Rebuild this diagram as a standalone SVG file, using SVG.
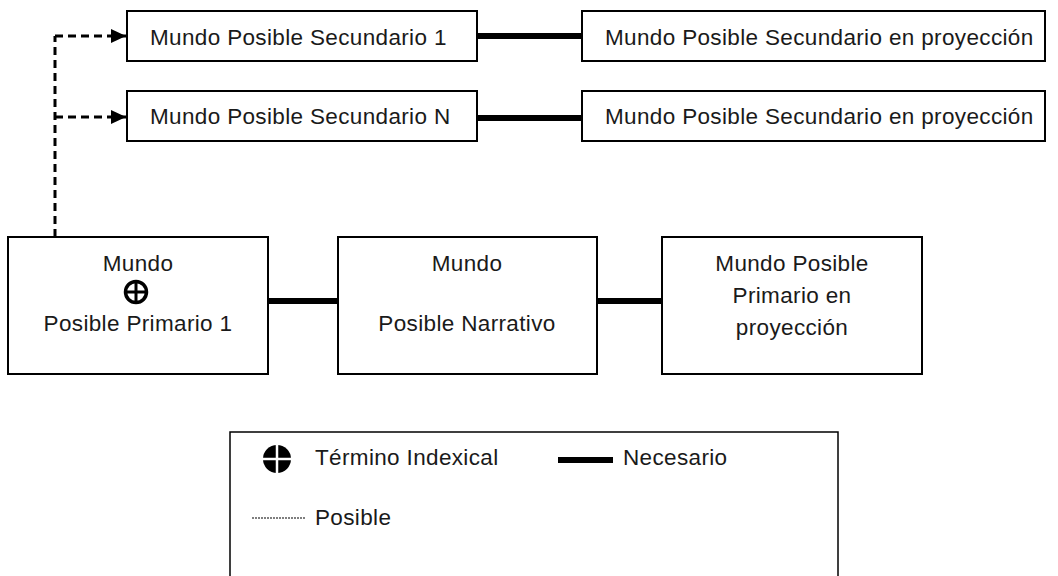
<svg xmlns="http://www.w3.org/2000/svg" width="1058" height="576" viewBox="0 0 1058 576">
<style>
.box{fill:#fff;stroke:#000;stroke-width:2}
.t{font-family:"Liberation Sans",Arial,sans-serif;font-size:22.5px;letter-spacing:0.35px;fill:#1a1a1a}
.c{text-anchor:middle}
.nec{stroke:#000;stroke-width:6;fill:none}
.pos{stroke:#000;stroke-width:3;stroke-dasharray:8 5;fill:none}
</style>
<defs>
<marker id="arr" viewBox="0 0 15 14" refX="15" refY="7" markerWidth="15" markerHeight="14" orient="auto" markerUnits="userSpaceOnUse">
<path d="M0,0 L15,7 L0,14 Z" fill="#000"/>
</marker>
</defs>
<rect x="0" y="0" width="1058" height="576" fill="#fff"/>
<g id="connectors">
<path class="pos" d="M55,237 V36"/>
<path class="pos" d="M55,36 H126" marker-end="url(#arr)"/>
<path class="pos" d="M55,117 H126" marker-end="url(#arr)"/>
<line class="nec" x1="477" y1="36" x2="582" y2="36"/>
<line class="nec" x1="477" y1="118" x2="582" y2="118"/>
<line class="nec" x1="268" y1="301" x2="338" y2="301"/>
<line class="nec" x1="597" y1="301" x2="662" y2="301"/>
</g>
<g id="sec1">
<rect class="box" x="127" y="11" width="350" height="50"/>
<text class="t" x="150" y="45">Mundo Posible Secundario 1</text>
</g>
<g id="secN">
<rect class="box" x="127" y="91" width="350" height="50"/>
<text class="t" x="150" y="124">Mundo Posible Secundario N</text>
</g>
<g id="proj1">
<rect class="box" x="582" y="11" width="463" height="50"/>
<text class="t" x="605" y="45">Mundo Posible Secundario en proyección</text>
</g>
<g id="projN">
<rect class="box" x="582" y="91" width="463" height="50"/>
<text class="t" x="605" y="124">Mundo Posible Secundario en proyección</text>
</g>
<g id="primario">
<rect class="box" x="8" y="237" width="260" height="137"/>
<text class="t c" x="138" y="271">Mundo</text>
<circle cx="136" cy="292" r="10.5" fill="none" stroke="#000" stroke-width="3.5"/>
<line x1="125" y1="292" x2="147" y2="292" stroke="#000" stroke-width="3"/>
<line x1="136" y1="281" x2="136" y2="303" stroke="#000" stroke-width="3"/>
<text class="t c" x="138" y="331">Posible Primario 1</text>
</g>
<g id="narrativo">
<rect class="box" x="338" y="237" width="259" height="137"/>
<text class="t c" x="467" y="271">Mundo</text>
<text class="t c" x="467" y="331">Posible Narrativo</text>
</g>
<g id="proyeccion">
<rect class="box" x="662" y="237" width="260" height="137"/>
<text class="t c" x="792" y="271">Mundo Posible</text>
<text class="t c" x="792" y="303">Primario en</text>
<text class="t c" x="792" y="335">proyección</text>
</g>
<g id="legend">
<rect x="230" y="432" width="608" height="200" fill="#fff" stroke="#000" stroke-width="1.5"/>
<circle cx="277" cy="459" r="14" fill="#000"/>
<line x1="263" y1="459" x2="291" y2="459" stroke="#fff" stroke-width="2.5"/>
<line x1="277" y1="445" x2="277" y2="473" stroke="#fff" stroke-width="2.5"/>
<text class="t" x="315" y="465">Término Indexical</text>
<line x1="558" y1="460" x2="613" y2="460" stroke="#000" stroke-width="6"/>
<text class="t" x="623" y="465">Necesario</text>
<line x1="252" y1="518" x2="305" y2="518" stroke="#000" stroke-width="1.2" stroke-dasharray="2 1"/>
<text class="t" x="315" y="525">Posible</text>
</g>
</svg>
